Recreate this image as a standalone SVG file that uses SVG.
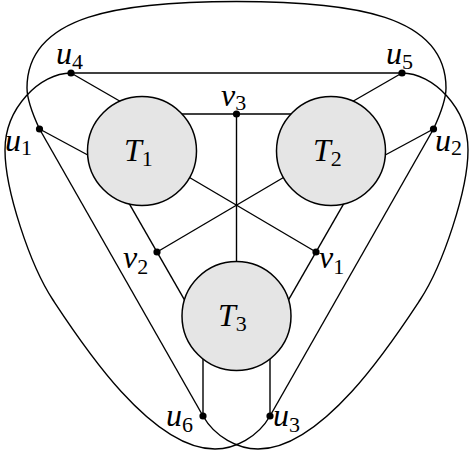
<svg xmlns="http://www.w3.org/2000/svg" xmlns:xlink="http://www.w3.org/1999/xlink" width="473" height="451" viewBox="0 0 473 451">
<style>
.e{fill:none;stroke:#000;stroke-width:1.4}
.big{fill:#e5e5e5;stroke:#000;stroke-width:1.5}
.dot{fill:#000}
.lb{font-family:"Liberation Serif","DejaVu Serif",serif;font-style:italic;font-size:32px;fill:#000}
.sb{font-style:normal;font-size:22px}
</style>
<defs>
<path id="side" d="M71,73 C40,73 5,108 5,150 C5,190 30,265 53,300 C80,341 150,449 215,449 C235,449 258,437 270,416"/>
</defs>
<rect width="473" height="451" fill="#fff"/>
<g id="connectors" class="e">
<path d="M39.5,129 C33,115 27,100 27,88 C27,15 120,1.5 236.5,1.5 C353,1.5 446,15 446,88 C446,100 440,115 433.5,129"/>
<use xlink:href="#side"/>
<use xlink:href="#side" transform="translate(473,0) scale(-1,1)"/>
<line x1="71" y1="73" x2="402" y2="73"/>
<line x1="71" y1="73" x2="130" y2="107"/>
<line x1="402" y1="73" x2="343" y2="107"/>
<line x1="39.5" y1="129" x2="110" y2="167"/>
<line x1="433.5" y1="129" x2="363" y2="167"/>
<line x1="236.5" y1="114" x2="170" y2="114"/>
<line x1="236.5" y1="114" x2="303" y2="114"/>
<line x1="236.5" y1="114" x2="236.5" y2="280"/>
<line x1="316" y1="252" x2="170" y2="166"/>
<line x1="157" y1="252" x2="303" y2="166"/>
<line x1="108.4" y1="167.4" x2="205.6" y2="336.6"/>
<line x1="364.6" y1="167.4" x2="267.4" y2="336.6"/>
<line x1="203" y1="330" x2="203" y2="416"/>
<line x1="270" y1="330" x2="270" y2="416"/>
<line x1="39.5" y1="129" x2="203" y2="416"/>
<line x1="433.5" y1="129" x2="270" y2="416"/>
</g>
<g id="T1"><circle class="big" cx="142" cy="151" r="54.5"/><text class="lb" x="124" y="161">T<tspan class="sb" dy="5">1</tspan></text></g>
<g id="T2"><circle class="big" cx="331" cy="151" r="54.5"/><text class="lb" x="313" y="161">T<tspan class="sb" dy="5">2</tspan></text></g>
<g id="T3"><circle class="big" cx="236.5" cy="316" r="54.5"/><text class="lb" x="218" y="326">T<tspan class="sb" dy="5">3</tspan></text></g>
<g id="u1"><circle class="dot" cx="39.5" cy="129" r="3.6"/><text class="lb" x="5" y="151">u<tspan class="sb" dy="4">1</tspan></text></g>
<g id="u2"><circle class="dot" cx="433.5" cy="129" r="3.6"/><text class="lb" x="435" y="151">u<tspan class="sb" dy="4">2</tspan></text></g>
<g id="u3"><circle class="dot" cx="270" cy="416" r="3.6"/><text class="lb" x="273" y="426">u<tspan class="sb" dy="6">3</tspan></text></g>
<g id="u4"><circle class="dot" cx="71" cy="73" r="3.6"/><text class="lb" x="56" y="64">u<tspan class="sb" dy="5">4</tspan></text></g>
<g id="u5"><circle class="dot" cx="402" cy="73" r="3.6"/><text class="lb" x="386" y="64">u<tspan class="sb" dy="5">5</tspan></text></g>
<g id="u6"><circle class="dot" cx="203" cy="416" r="3.6"/><text class="lb" x="166" y="426">u<tspan class="sb" dy="6">6</tspan></text></g>
<g id="v1"><circle class="dot" cx="316" cy="252" r="3.6"/><text class="lb" x="319" y="268">v<tspan class="sb" dy="6">1</tspan></text></g>
<g id="v2"><circle class="dot" cx="157" cy="252" r="3.6"/><text class="lb" x="123" y="268">v<tspan class="sb" dy="6">2</tspan></text></g>
<g id="v3"><circle class="dot" cx="236.5" cy="114" r="3.6"/><text class="lb" x="221" y="106">v<tspan class="sb" dy="4">3</tspan></text></g>
</svg>
